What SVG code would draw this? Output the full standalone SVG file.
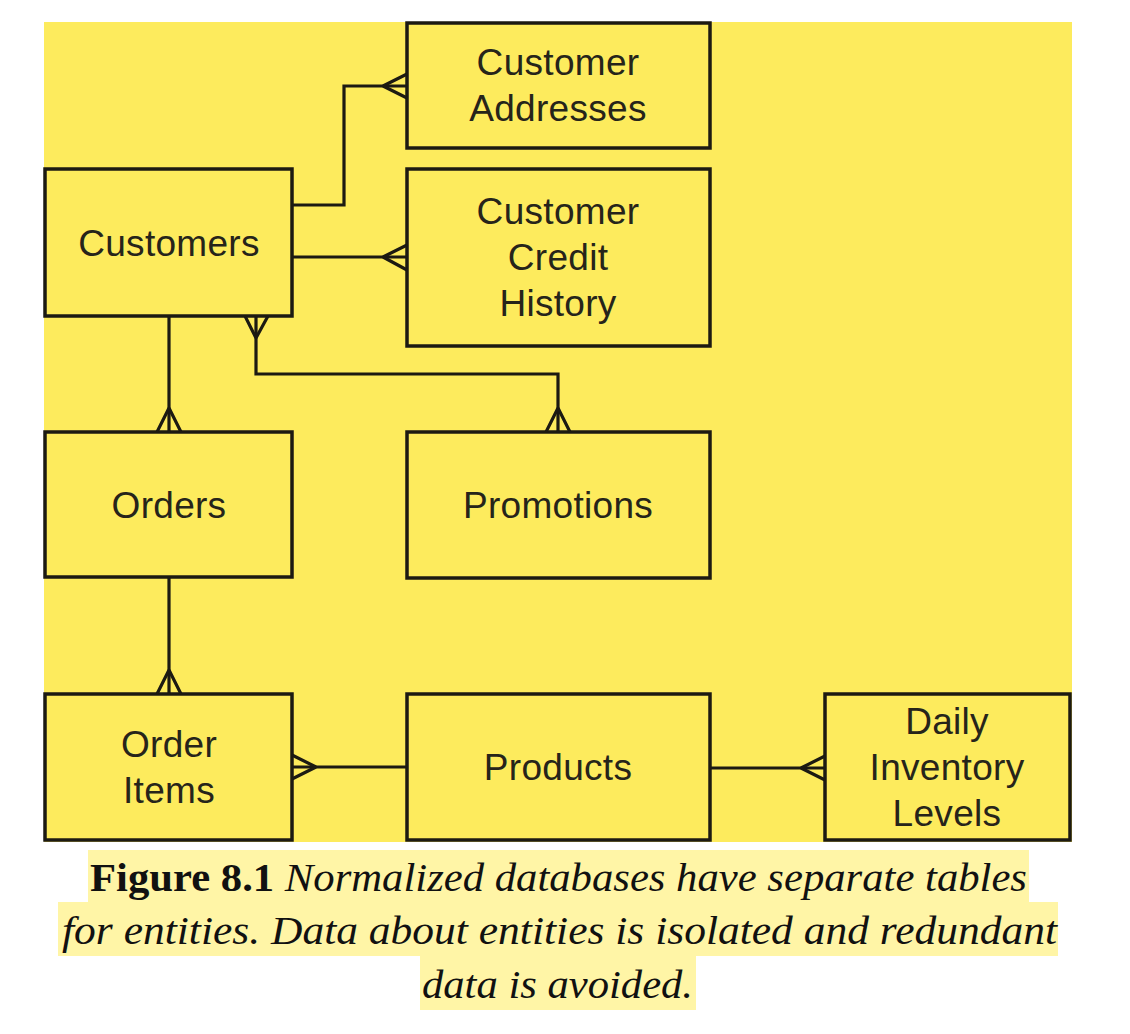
<svg xmlns="http://www.w3.org/2000/svg" width="1130" height="1034" viewBox="0 0 1130 1034">
<style>
.box{fill:#fdeb5d;stroke:#1c1a12;stroke-width:3.5}
.lbl{font-family:"Liberation Sans",Arial,sans-serif;font-size:37px;fill:#26241a;text-anchor:middle;letter-spacing:0.3px}
.cn{fill:none;stroke:#1c1a12;stroke-width:3.2;stroke-linejoin:miter}
.cap{font-family:"Liberation Serif","DejaVu Serif",serif;font-size:39px;fill:#111;font-style:italic}
.hl{fill:#fff5a6}
</style>
<rect width="1130" height="1034" fill="#ffffff"/>
<rect x="44" y="22" width="1028" height="820" fill="#fdeb5d"/>

<g id="customer-addresses"><rect class="box" x="407" y="23" width="303" height="125"/><text class="lbl" x="558" y="75">Customer</text><text class="lbl" x="558" y="121">Addresses</text></g>
<g id="customers"><rect class="box" x="45" y="169" width="247" height="147"/><text class="lbl" x="169" y="256">Customers</text></g>
<g id="customer-credit-history"><rect class="box" x="407" y="169" width="303" height="177"/><text class="lbl" x="558" y="224">Customer</text><text class="lbl" x="558" y="270">Credit</text><text class="lbl" x="558" y="316">History</text></g>
<g id="orders"><rect class="box" x="45" y="432" width="247" height="145"/><text class="lbl" x="169" y="518">Orders</text></g>
<g id="promotions"><rect class="box" x="407" y="432" width="303" height="146"/><text class="lbl" x="558" y="518">Promotions</text></g>
<g id="order-items"><rect class="box" x="45" y="694" width="247" height="146"/><text class="lbl" x="169" y="757">Order</text><text class="lbl" x="169" y="803">Items</text></g>
<g id="products"><rect class="box" x="407" y="694" width="303" height="146"/><text class="lbl" x="558" y="780">Products</text></g>
<g id="daily-inventory-levels"><rect class="box" x="825" y="694" width="245" height="146"/><text class="lbl" x="947" y="734">Daily</text><text class="lbl" x="947" y="780">Inventory</text><text class="lbl" x="947" y="826">Levels</text></g>

<g id="connectors">
<path class="cn" d="M292 205 H344 V86 H407"/>
<path class="cn" d="M383 86 L407 74 M383 86 L407 98"/>
<path class="cn" d="M292 257 H407"/>
<path class="cn" d="M383 257 L407 245 M383 257 L407 270"/>
<path class="cn" d="M169 316 V432"/>
<path class="cn" d="M169 408 L157 432 M169 408 L181 432"/>
<path class="cn" d="M256 316 V374 H558 V432"/>
<path class="cn" d="M256 338 L245 316 M256 338 L268 316"/>
<path class="cn" d="M558 408 L546 432 M558 408 L570 432"/>
<path class="cn" d="M169 577 V694"/>
<path class="cn" d="M169 670 L157 694 M169 670 L181 694"/>
<path class="cn" d="M292 767 H407"/>
<path class="cn" d="M316 767 L292 755 M316 767 L292 779"/>
<path class="cn" d="M710 768 H825"/>
<path class="cn" d="M801 768 L825 756 M801 768 L825 780"/>
</g>

<g id="caption">
<rect class="hl" x="88" y="850" width="941" height="52"/>
<rect class="hl" x="58" y="902" width="1000" height="54"/>
<rect class="hl" x="420" y="956" width="276" height="54"/>
<text class="cap" x="90" y="891" textLength="937" lengthAdjust="spacingAndGlyphs"><tspan font-weight="bold" font-style="normal">Figure 8.1</tspan> Normalized databases have separate tables</text>
<text class="cap" x="62" y="944" textLength="995" lengthAdjust="spacingAndGlyphs">for entities. Data about entities is isolated and redundant</text>
<text class="cap" x="422" y="998" textLength="271" lengthAdjust="spacingAndGlyphs">data is avoided.</text>
</g>
</svg>
